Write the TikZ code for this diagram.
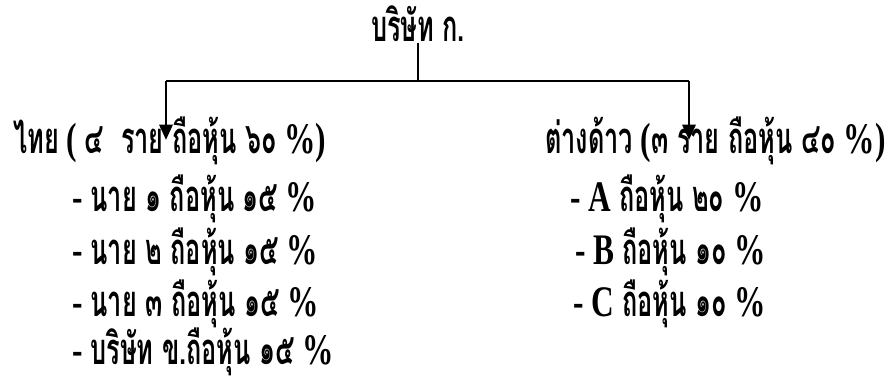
\documentclass[tikz,border=0pt]{standalone}
\usepackage{fontspec}
\setmainfont[FakeStretch=0.72]{Liberation Serif}
\newfontfamily\thaifont[Script=Thai, FakeStretch=0.58]{Loma}
\newcommand{\thai}[1]{{\thaifont #1}}
\usetikzlibrary{arrows.meta,positioning}

\begin{document}
\begin{tikzpicture}[x=0.025cm, y=-0.025cm,
    txt/.style={anchor=base west, inner sep=0pt, font=\fontsize{31}{36}\selectfont\bfseries},
    arr/.style={-{Triangle[length=0.38cm, width=0.34cm]}, line width=1pt}
]
\useasboundingbox (0,0) rectangle (890,378);

\node[txt, anchor=base] (company) at (418,41) {\thai{บริษัท ก.}};

\node[txt] (thai) at (13,153) {\thai{ไทย} ( \thai{๔\ \ ราย ถือหุ้น ๖๐} \%)};
\node[txt] (thai1) at (72,211) {- \thai{นาย ๑ ถือหุ้น ๑๕} \%};
\node[txt] (thai2) at (72,264) {- \thai{นาย ๒ ถือหุ้น ๑๕} \%};
\node[txt] (thai3) at (72,316) {- \thai{นาย ๓ ถือหุ้น ๑๕} \%};
\node[txt] (thai4) at (72,364) {- \thai{บริษัท ข.ถือหุ้น ๑๕} \%};

\node[txt] (foreign) at (545,153) {\thai{ต่างด้าว}\ (\thai{๓ ราย ถือหุ้น ๔๐} \%)};
\node[txt] (foreign1) at (570,211) {- A \thai{ถือหุ้น ๒๐} \%};
\node[txt] (foreign2) at (575,264) {- B \thai{ถือหุ้น ๑๐} \%};
\node[txt] (foreign3) at (573,316) {- C \thai{ถือหุ้น ๑๐} \%};

\coordinate (lt) at (166,81);
\coordinate (rt) at (689,81);

\draw[line width=1pt] (company.south |- 0,43) -- (company.south |- lt);
\draw[line width=1.4pt] (lt) -- (rt);
\draw[arr] (lt) -- ([yshift=0.33cm]lt |- thai.base);
\draw[arr] (rt) -- ([yshift=0.33cm]rt |- foreign.base);
\end{tikzpicture}
\end{document}
